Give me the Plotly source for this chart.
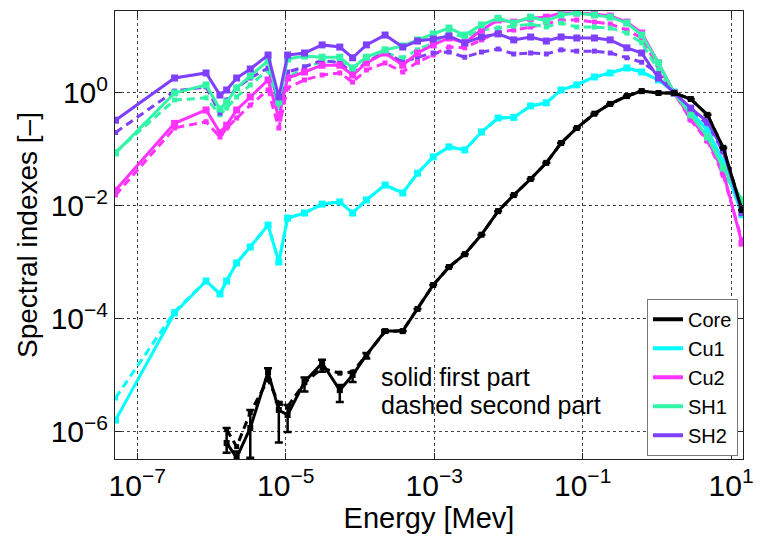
import plotly.graph_objects as go

energy = [5.1e-8, 3.18e-7, 8.45e-7, 1.30e-6, 1.60e-6, 2.18e-6, 3.33e-6, 5.78e-6, 8.07e-6, 1.06e-5,
          1.79e-5, 3.09e-5, 5.35e-5, 7.96e-5, 1.22e-4, 2.18e-4, 3.77e-4, 5.96e-4, 9.70e-4, 1.58e-3,
          2.58e-3, 4.33e-3, 7.26e-3, 1.18e-2, 1.99e-2, 3.24e-2, 5.12e-2, 8.34e-2, 0.144, 0.235,
          0.394, 0.624, 1.05, 1.71, 2.86, 4.81, 7.83, 14.0]

core_1 = [None, None, None, None, 6.4e-7, 3.5e-7, 1.18e-6, 1.15e-5, 2.45e-6, 2.0e-6,
          7.7e-6, 1.66e-5, 5.5e-6, 1.02e-5, 2.3e-5, 6.1e-5, 6.1e-5, 1.5e-4, 4.0e-4, 8.3e-4,
          1.4e-3, 3.1e-3, 8.1e-3, 1.56e-2, 3.0e-2, 5.8e-2, 0.13, 0.24, 0.43, 0.64,
          0.88, 1.08, 1.0, 1.0, 0.78, 0.41, 0.107, 0.0085]
core_1_err_plus = [0, 0, 0, 0, 5.4e-7, 1.0e-7, 1.27e-6, 2.0e-6, 0.95e-6, 1.0e-6,
                   1.5e-6, 2.4e-6, 1.3e-6, 1.3e-6, 2e-6, 3e-6, 0, 0, 0, 0,
                   0, 0, 0, 0, 0, 0, 0, 0, 0, 0, 0, 0, 0, 0, 0, 0, 0, 0]
core_1_err_minus = [0, 0, 0, 0, 2.1e-7, 0.8e-7, 8.3e-7, 3.2e-6, 1.8e-6, 1.0e-6,
                    2.5e-6, 5e-6, 2.1e-6, 2.5e-6, 3e-6, 3e-6, 0, 0, 0, 0,
                    0, 0, 0, 0, 0, 0, 0, 0, 0, 0, 0, 0, 0, 0, 0, 0, 0, 0]
core_2 = [None, None, None, None, 1.1e-6, 5.5e-7, 2.2e-6, 8.5e-6, 3.2e-6, 2.8e-6,
          7.4e-6, 1.35e-5, 1.1e-5, 1.15e-5, 2.3e-5, 6.0e-5, 6.2e-5, 1.5e-4, 4.0e-4, 8.3e-4,
          1.4e-3, 3.1e-3, 8.1e-3, 1.56e-2, 3.0e-2, 5.8e-2, 0.13, 0.24, 0.43, 0.64,
          0.88, 1.08, 1.0, 1.0, 0.78, 0.41, 0.107, 0.0085]

cu1_1 = [1.63e-6, 1.28e-4, 4.7e-4, 2.77e-4, 4.7e-4, 9.8e-4, 1.88e-3, 4.6e-3, 1.02e-3, 6.1e-3,
         7.5e-3, 1.08e-2, 1.18e-2, 7.5e-3, 1.28e-2, 2.35e-2, 1.7e-2, 3.8e-2, 7.4e-2, 0.111,
         0.098, 0.204, 0.36, 0.37, 0.59, 0.67, 1.13, 1.39, 1.92, 2.26,
         2.77, 2.35, 1.7, 1.04, 0.46, 0.22, 0.06, 0.007]
cu1_2 = [4.0e-6, 1.35e-4, 4.7e-4, 2.8e-4, 4.8e-4, 9.8e-4, 1.9e-3, 4.6e-3, 1.02e-3, 6.1e-3,
         7.5e-3, 1.08e-2, 1.18e-2, 7.6e-3, 1.28e-2, 2.35e-2, 1.7e-2, 3.8e-2, 7.4e-2, 0.111,
         0.098, 0.204, 0.36, 0.37, 0.59, 0.67, 1.13, 1.39, 1.92, 2.26,
         2.77, 2.35, 1.7, 1.04, 0.46, 0.22, 0.06, 0.007]

cu2_1 = [0.019, 0.29, 0.50, 0.20, 0.27, 0.50, 0.85, 1.7, 0.36, 1.84,
         2.35, 3.1, 3.1, 2.08, 3.4, 5.1, 3.1, 5.1, 7.1, 9.4,
         7.7, 13, 19.6, 18, 21, 22, 26, 26, 25, 23,
         18, 11.5, 3.4, 1.0, 0.36, 0.15, 0.04, 0.0022]
cu2_2 = [0.0157, 0.24, 0.31, 0.166, 0.24, 0.36, 0.61, 1.13, 0.24, 1.23,
         1.7, 2.08, 2.26, 1.56, 2.55, 3.4, 2.35, 3.5, 4.7, 6.5,
         6.3, 8.7, 12, 13, 14.7, 16.6, 19.6, 19.6, 18, 16.6,
         13, 9.4, 2.9, 1.0, 0.33, 0.14, 0.035, 0.0025]

sh1_1 = [0.087, 1.0, 1.39, 0.52, 0.69, 1.23, 2.0, 3.7, 0.69, 4.0,
         4.5, 4.3, 4.3, 2.77, 4.3, 5.8, 6.8, 8.7, 11.1, 14.1,
         10.6, 16, 21, 17.3, 22, 18.8, 24, 26, 24, 22,
         17.3, 10.6, 3.4, 1.0, 0.41, 0.166, 0.047, 0.0128]
sh1_2 = [0.09, 0.75, 0.82, 0.41, 0.54, 0.85, 1.39, 2.55, 0.54, 1.84,
         2.9, 3.5, 3.8, 2.77, 3.8, 5.1, 4.2, 5.8, 7.7, 11.5,
         9.8, 13, 14.1, 15.3, 16.6, 14.7, 17.3, 14.7, 14.7, 14.1,
         11.5, 7.7, 2.55, 1.0, 0.38, 0.15, 0.04, 0.011]

sh2_1 = [0.33, 1.84, 2.26, 0.92, 1.13, 1.84, 2.66, 4.7, 0.85, 4.7,
         5.1, 7.1, 6.5, 4.2, 7.1, 10.6, 6.5, 8.3, 9.0, 10.2,
         7.7, 9.8, 11.1, 8.7, 9.8, 8.3, 9.8, 9.4, 9.4, 8.7,
         6.3, 5.1, 1.84, 1.0, 0.54, 0.31, 0.098, 0.0076]
sh2_2 = [0.20, 1.08, 1.28, 0.44, 0.75, 1.23, 1.84, 2.77, 0.67, 2.35,
         2.9, 3.8, 3.4, 2.26, 3.5, 5.3, 3.5, 4.3, 5.1, 5.3,
         4.3, 5.3, 6.0, 4.9, 5.1, 4.9, 5.8, 5.5, 5.5, 5.1,
         4.2, 3.5, 2.2, 1.0, 0.50, 0.28, 0.09, 0.007]

names = ["Core", "Cu1", "Cu2", "SH1", "SH2"]
colors = ["#000000", "#00FFFF", "#FF33FF", "#33F5A8", "#7F3FFF"]
first = [core_1, cu1_1, cu2_1, sh1_1, sh2_1]
second = [core_2, cu1_2, cu2_2, sh1_2, sh2_2]

fig = go.Figure()

# dashed (second part)
for i in [1, 2, 3, 4, 0]:
    fig.add_trace(go.Scatter(
        x=energy, y=second[i], mode="lines+markers", showlegend=False,
        line=dict(color=colors[i], width=3, dash="8px,5px"),
        marker=dict(symbol="square", size=5, color=colors[i]),
    ))

# solid (first part)
for i in [1, 2, 3, 4, 0]:
    kw = {}
    if i == 0:
        kw["error_y"] = dict(type="data", symmetric=False, array=core_1_err_plus,
                             arrayminus=core_1_err_minus, color="#000000",
                             thickness=2.5, width=4)
    fig.add_trace(go.Scatter(
        x=energy, y=first[i], mode="lines+markers", showlegend=False,
        line=dict(color=colors[i], width=3),
        marker=dict(symbol="square", size=7 if i else 6, color=colors[i]),
        **kw,
    ))

# legend entries (line only)
for i in range(5):
    fig.add_trace(go.Scatter(
        x=[None], y=[None], mode="lines", name=names[i],
        line=dict(color=colors[i], width=4),
    ))

font_family = "Liberation Sans, Arial, sans-serif"
xt = [1e-7, 1e-5, 1e-3, 1e-1, 1e1]
xt_text = ["10<sup>\u22127</sup>", "10<sup>\u22125</sup>", "10<sup>\u22123</sup>",
           "10<sup>\u22121</sup>", "10<sup>1</sup>"]
yt = [1e-6, 1e-4, 1e-2, 1e0]
yt_text = ["10<sup>\u22126</sup>", "10<sup>\u22124</sup>", "10<sup>\u22122</sup>", "10<sup>0</sup>"]

axis_common = dict(
    showline=True, linecolor="#222222", linewidth=1, mirror="ticks",
    ticks="inside", ticklen=6, tickcolor="#222222",
    showgrid=True, gridcolor="#444444", griddash="dot", gridwidth=1,
    zeroline=False, tickfont=dict(size=30, color="#000000", family=font_family),
    ticklabeloverflow="allow",
)

fig.update_layout(
    width=761, height=540,
    margin=dict(l=115, r=8, t=11, b=81),
    paper_bgcolor="white", plot_bgcolor="white",
    font=dict(family=font_family, color="#000000"),
    xaxis=dict(type="log", range=[-7.30, 1.16], tickvals=xt, ticktext=xt_text,
               title=dict(text="Energy [Mev]", font=dict(size=29), standoff=2),
               **axis_common),
    yaxis=dict(type="log", range=[-6.478, 1.451], tickvals=yt, ticktext=yt_text,
               title=dict(text="Spectral indexes [\u2013]", font=dict(size=28), standoff=4),
               **axis_common),
    legend=dict(x=0.992, y=0.007, xanchor="right", yanchor="bottom",
                bgcolor="white", bordercolor="#777777", borderwidth=1,
                font=dict(size=20, family=font_family, color="#000000"),
                itemwidth=30),
    annotations=[
        dict(text="solid first part", x=0.42, y=0.183, xref="paper", yref="paper",
             xanchor="left", yanchor="middle", showarrow=False, font=dict(size=25)),
        dict(text="dashed second part", x=0.42, y=0.1205, xref="paper", yref="paper",
             xanchor="left", yanchor="middle", showarrow=False, font=dict(size=25)),
    ],
)

fig.write_html("out.html")
